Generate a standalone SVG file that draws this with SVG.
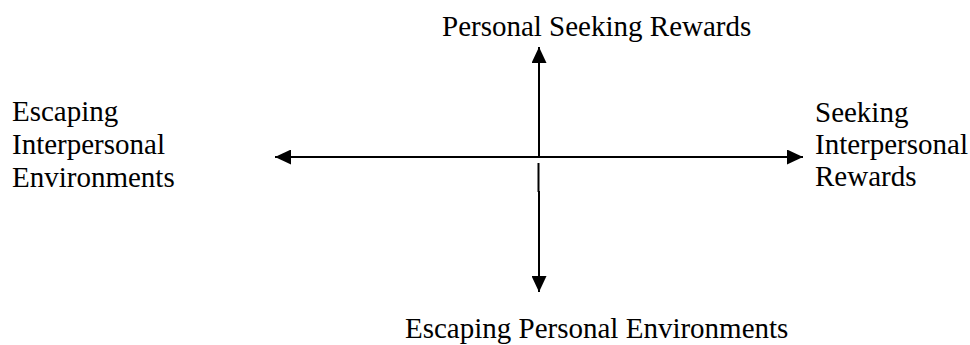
<svg xmlns="http://www.w3.org/2000/svg" width="970" height="345" viewBox="0 0 970 345">
<style>
.ax{stroke:#000;stroke-width:2;fill:none}
</style>
<defs>
<marker id="ah" viewBox="0 0 16 15" refX="16" refY="7.5" markerWidth="16" markerHeight="15" markerUnits="userSpaceOnUse" orient="auto">
<path d="M0,0 L16,7.5 L0,15 Z" fill="#000"/>
</marker>
</defs>
<rect width="970" height="345" fill="#fff"/>
<g id="connectors">
<line class="ax" x1="539" y1="158" x2="539" y2="47" marker-end="url(#ah)"/>
<line class="ax" x1="538.5" y1="163" x2="538.5" y2="192"/>
<line class="ax" x1="539" y1="191" x2="539" y2="292" marker-end="url(#ah)"/>
<line class="ax" x1="539" y1="157" x2="275" y2="157" marker-end="url(#ah)"/>
<line class="ax" x1="539" y1="157" x2="803" y2="157" marker-end="url(#ah)"/>
</g>
<g font-family="Liberation Serif, serif" font-size="29" fill="#000">
<g id="node-top"><text x="442" y="36">Personal Seeking Rewards</text></g>
<g id="node-bottom"><text x="405" y="338">Escaping Personal Environments</text></g>
<g id="node-left"><text x="12" y="121">Escaping</text><text x="12" y="154">Interpersonal</text><text x="12" y="187">Environments</text></g>
<g id="node-right"><text x="815" y="122">Seeking</text><text x="815" y="154">Interpersonal</text><text x="815" y="186">Rewards</text></g>
</g>
</svg>
